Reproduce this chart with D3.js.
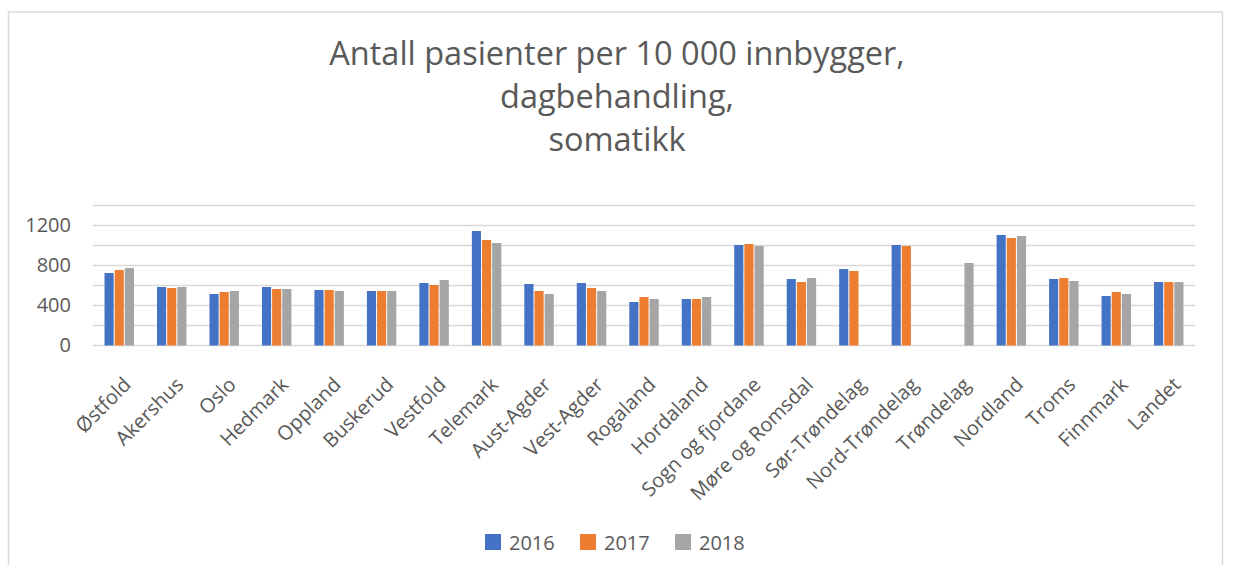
<!DOCTYPE html>
<meta charset="UTF-8">
<html>
<head>
	<title>Antall pasienter per 10 000 innbyggere</title>
	<script src="https://d3js.org/d3.v7.min.js"></script>
	<style>
		body { margin: 0; background: #fff; }
		text { font-family: "Open Sans", sans-serif; fill: #595959; }
	</style>
</head>
<body>
	<svg id="chart" width="1233" height="565"></svg>

	<script>
		// Data
		var regions = ["Østfold", "Akershus", "Oslo", "Hedmark", "Oppland", "Buskerud",
			"Vestfold", "Telemark", "Aust-Agder", "Vest-Agder", "Rogaland", "Hordaland",
			"Sogn og fjordane", "Møre og Romsdal", "Sør-Trøndelag", "Nord-Trøndelag",
			"Trøndelag", "Nordland", "Troms", "Finnmark", "Landet"];
		var years = ["2016", "2017", "2018"];
		var v2016 = [725, 585, 515, 585, 555, 545, 625, 1145, 615, 625, 435, 465, 1005, 665, 765, 1005, null, 1105, 665, 495, 635];
		var v2017 = [755, 575, 535, 565, 555, 545, 605, 1055, 545, 575, 485, 465, 1015, 635, 745, 995, null, 1075, 675, 535, 635];
		var v2018 = [775, 585, 545, 565, 545, 545, 655, 1025, 515, 545, 465, 485, 995, 675, null, null, 825, 1095, 645, 515, 635];
		var yTicks = [0, 400, 800, 1200];
		var colors = ["#4472c4", "#ed7d31", "#a5a5a5"];

		var series = [v2016, v2017, v2018];

		var svg = d3.select("#chart");

		// chart frame
		svg.append("rect")
			.attr("x", 8.5).attr("y", 12)
			.attr("width", 1214).attr("height", 600)
			.style("fill", "none")
			.style("stroke", "#d9d9d9")
			.style("stroke-width", 1.5);

		// title
		var title = ["Antall pasienter per 10 000 innbygger,", "dagbehandling,", "somatikk"];
		svg.append("text")
			.attr("x", 617).attr("y", 65)
			.attr("text-anchor", "middle")
			.style("font-size", "32.5px")
			.selectAll("tspan")
			.data(title)
			.enter()
			.append("tspan")
				.attr("x", 617)
				.attr("dy", function(d, i){ return i == 0 ? 0 : 43; })
				.text(function(d){ return d; });

		// scales
		var x = d3.scaleBand()
			.domain(regions)
			.range([93, 1195])
			.paddingInner(0.4)
			.paddingOuter(0.2);
		var xs = d3.scaleBand()
			.domain(years)
			.range([0, x.bandwidth()])
			.padding(0.1);
		var y = d3.scaleLinear()
			.domain([0, 1400])
			.range([345.5, 205.5]);

		// gridlines every 200
		svg.append("g")
			.selectAll("line")
			.data(d3.range(0, 1401, 200))
			.enter()
			.append("line")
				.attr("x1", 93).attr("x2", 1195)
				.attr("y1", function(d){ return y(d); })
				.attr("y2", function(d){ return y(d); })
				.style("stroke", "#d9d9d9")
				.style("stroke-width", 1.5);

		// y axis labels
		var yAxis = d3.axisLeft(y).tickValues(yTicks).tickFormat(d3.format("d"))
			.tickSize(0).tickPadding(0);
		svg.append("g")
			.attr("transform", "translate(71,0)")
			.call(yAxis)
			.call(function(g){ g.select(".domain").remove(); })
			.selectAll("text")
				.style("font-family", "'Open Sans', sans-serif")
				.style("font-size", "20px")
				.style("fill", "#595959");

		// bars
		years.forEach(function(yr, k){
			svg.append("g")
				.selectAll("rect")
				.data(regions.map(function(r, i){ return {r: r, v: series[k][i]}; })
					.filter(function(d){ return d.v != null; }))
				.enter()
				.append("rect")
					.attr("x", function(d){ return x(d.r) + xs(yr); })
					.attr("y", function(d){ return y(d.v); })
					.attr("width", xs.bandwidth())
					.attr("height", function(d){ return y(0) - y(d.v); })
					.style("fill", colors[k]);
		});

		// x labels, rotated
		svg.append("g")
			.selectAll("text")
			.data(regions)
			.enter()
			.append("text")
				.attr("transform", function(d){
					return "translate(" + (x(d) + x.bandwidth()/2 + 8) + ",381) rotate(-45)";
				})
				.attr("text-anchor", "end")
				.attr("dy", "0.35em")
				.style("font-size", "20px")
				.text(function(d){ return d; });

		// legend
		var legend = svg.append("g")
			.selectAll("g")
			.data(years)
			.enter()
			.append("g")
				.attr("transform", function(d, i){ return "translate(" + (485 + i*95) + ",534)"; });
		legend.append("rect")
			.attr("width", 16).attr("height", 16)
			.style("fill", function(d, i){ return colors[i]; });
		legend.append("text")
			.attr("x", 24).attr("y", 16)
			.style("font-size", "20px")
			.text(function(d){ return d; });
	</script>
</body>
</html>
